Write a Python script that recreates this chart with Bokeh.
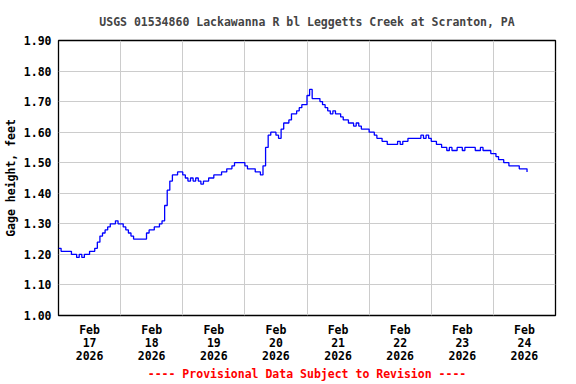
from bokeh.plotting import figure
from bokeh.models import FixedTicker
from bokeh.embed import file_html
from bokeh.resources import INLINE

# ---- data (hourly gage height, feet; hour 0 = Feb 17 00:00) ----
start_day = 17
gage_height = [
    1.22, 1.21, 1.21, 1.21, 1.21, 1.20, 1.20, 1.19, 1.20, 1.19, 1.20, 1.20,
    1.21, 1.21, 1.22, 1.24, 1.26, 1.27, 1.28, 1.29, 1.30, 1.30, 1.31, 1.30,
    1.30, 1.29, 1.28, 1.27, 1.26, 1.25, 1.25, 1.25, 1.25, 1.25, 1.27, 1.28,
    1.28, 1.29, 1.29, 1.30, 1.31, 1.36, 1.41, 1.44, 1.46, 1.46, 1.47, 1.47,
    1.46, 1.45, 1.44, 1.45, 1.44, 1.45, 1.44, 1.43, 1.44, 1.44, 1.45, 1.45,
    1.46, 1.46, 1.46, 1.47, 1.47, 1.48, 1.48, 1.49, 1.50, 1.50, 1.50, 1.50,
    1.49, 1.48, 1.48, 1.48, 1.47, 1.47, 1.46, 1.49, 1.55, 1.59, 1.60, 1.60,
    1.59, 1.58, 1.61, 1.63, 1.63, 1.64, 1.66, 1.66, 1.67, 1.68, 1.69, 1.69,
    1.72, 1.74, 1.71, 1.71, 1.71, 1.70, 1.69, 1.68, 1.67, 1.66, 1.67, 1.66,
    1.66, 1.65, 1.64, 1.64, 1.63, 1.63, 1.62, 1.63, 1.62, 1.61, 1.61, 1.61,
    1.60, 1.60, 1.59, 1.58, 1.58, 1.57, 1.57, 1.56, 1.56, 1.56, 1.56, 1.57,
    1.56, 1.57, 1.57, 1.58, 1.58, 1.58, 1.58, 1.58, 1.59, 1.58, 1.59, 1.58,
    1.57, 1.57, 1.56, 1.56, 1.55, 1.55, 1.54, 1.55, 1.54, 1.54, 1.55, 1.55,
    1.54, 1.55, 1.55, 1.55, 1.55, 1.54, 1.54, 1.55, 1.54, 1.54, 1.54, 1.53,
    1.53, 1.52, 1.51, 1.51, 1.50, 1.50, 1.49, 1.49, 1.49, 1.49, 1.48, 1.48,
    1.48, 1.47,
]
hours = list(range(len(gage_height)))
day_values = [start_day + h / 24 for h in hours]

tick_months = ["Feb"] * 8
tick_days = ["17", "18", "19", "20", "21", "22", "23", "24"]
tick_years = ["2026"] * 8
y_ticks = [1.00, 1.10, 1.20, 1.30, 1.40, 1.50, 1.60, 1.70, 1.80, 1.90]
y_tick_labels = ["1.00", "1.10", "1.20", "1.30", "1.40", "1.50", "1.60", "1.70", "1.80", "1.90"]
title_text = "USGS 01534860 Lackawanna R bl Leggetts Creek at Scranton, PA"
y_title = "Gage height, feet"
note_text = "---- Provisional Data Subject to Revision ----"

FONT = "DejaVu Sans Mono"
FS = "11.5px"

p = figure(width=576, height=384, output_backend="svg", toolbar_location=None,
           x_range=(17, 25), y_range=(1.0, 1.9),
           min_border_left=58, min_border_right=21, min_border_top=40, min_border_bottom=69,
           title=title_text)

p.title.align = "center"
p.title.text_font = FONT
p.title.text_font_size = FS
p.title.text_font_style = "bold"
p.title.standoff = 23

p.step(day_values, gage_height, mode="after", line_color="#0000ff", line_width=1.3)

# x axis: labels at noon, grid at midnight
label_pos = [start_day + i + 0.5 for i in range(len(tick_days))]
p.xaxis.ticker = FixedTicker(ticks=label_pos)
p.xaxis.major_label_overrides = {
    pos: f"{m}\n{d}\n{y}" for pos, m, d, y in zip(label_pos, tick_months, tick_days, tick_years)
}
p.xgrid.ticker = FixedTicker(ticks=[start_day + i for i in range(1, len(tick_days))])

p.yaxis.ticker = FixedTicker(ticks=y_ticks)
p.yaxis.major_label_overrides = {t: s for t, s in zip(y_ticks, y_tick_labels)}

for ax in (p.xaxis[0], p.yaxis[0]):
    ax.axis_line_color = None
    ax.major_tick_line_color = None
    ax.minor_tick_line_color = None
    ax.major_tick_out = 0
    ax.major_tick_in = 0
    ax.minor_tick_out = 0
    ax.minor_tick_in = 0
    ax.major_label_text_font = FONT
    ax.major_label_text_font_size = FS
    ax.major_label_text_font_style = "bold"
    ax.major_label_text_color = "black"
    ax.axis_label_text_font = FONT
    ax.axis_label_text_font_size = FS
    ax.axis_label_text_font_style = "bold"

p.yaxis.major_label_standoff = 7
p.yaxis.axis_label = y_title
p.yaxis.axis_label_standoff = 3
p.yaxis.axis_label_text_color = "black"

p.xaxis.major_label_standoff = 7
p.xaxis.major_label_text_line_height = 0.95
p.xaxis.axis_label = note_text
p.xaxis.axis_label_text_color = "#ff0000"
p.xaxis.axis_label_standoff = 1

p.grid.grid_line_color = "#cccccc"
p.grid.grid_line_width = 1
p.outline_line_color = "black"
p.outline_line_width = 1.3
p.background_fill_color = "white"
p.border_fill_color = "white"

open("out.html", "w").write(file_html(p, INLINE))
